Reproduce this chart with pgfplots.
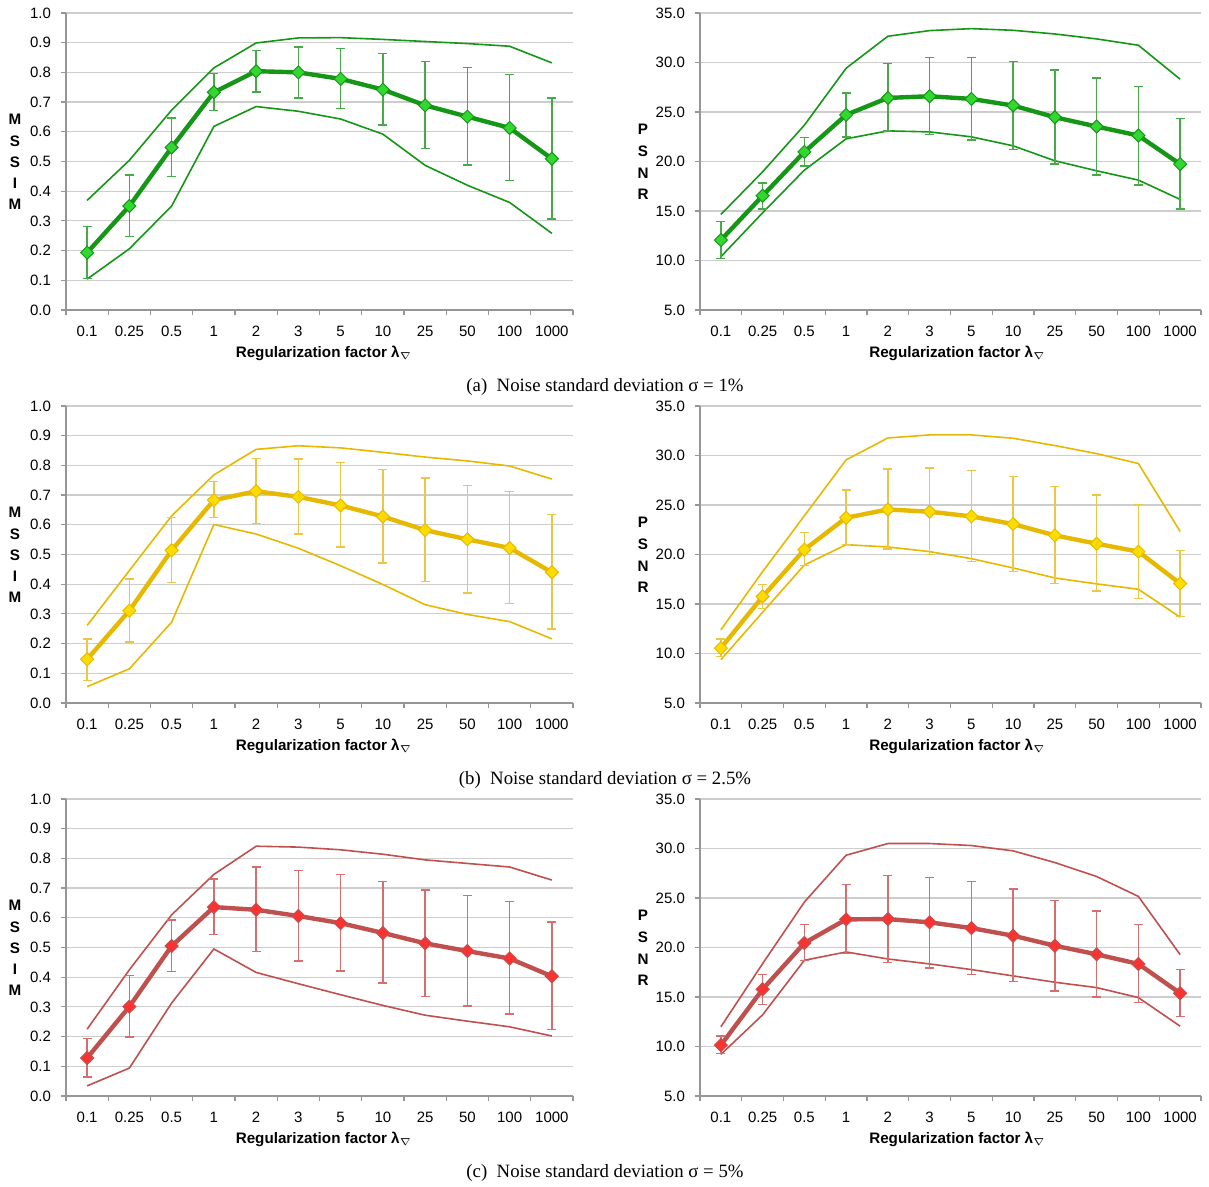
\documentclass[border=0pt]{standalone}
\usepackage{pgfplots}
\pgfplotsset{compat=1.18}
\usepackage{pgfplotstable}
\usepackage{fontspec}
\setmainfont{Liberation Sans}
\newfontfamily\capfont{Liberation Serif}

\definecolor{gLine}{RGB}{22,150,22}
\definecolor{gFill}{RGB}{50,215,50}
\definecolor{gErr}{RGB}{70,170,70}
\definecolor{yLine}{RGB}{230,185,0}
\definecolor{yFill}{RGB}{255,220,0}
\definecolor{yErr}{RGB}{238,198,70}
\definecolor{rLine}{RGB}{192,80,77}
\definecolor{rFill}{RGB}{250,50,50}
\definecolor{rErr}{RGB}{215,110,110}
\definecolor{axgray}{RGB}{150,150,150}
\definecolor{gridgray}{RGB}{205,205,205}

% x mean hi lo max min
\pgfplotstableread{
x m hi lo mx mn
0 0.193 0.281 0.107 0.369 0.104
1 0.350 0.454 0.248 0.504 0.206
2 0.547 0.646 0.450 0.673 0.350
3 0.733 0.797 0.672 0.815 0.618
4 0.804 0.873 0.734 0.899 0.685
5 0.800 0.886 0.714 0.916 0.669
6 0.778 0.880 0.678 0.917 0.643
7 0.742 0.863 0.623 0.911 0.592
8 0.689 0.837 0.544 0.904 0.487
9 0.651 0.816 0.488 0.897 0.420
10 0.613 0.793 0.436 0.888 0.362
11 0.509 0.714 0.307 0.832 0.258
}\tMa
\pgfplotstableread{
x m hi lo mx mn
0 12.06 13.91 10.21 14.65 10.38
1 16.54 17.81 15.22 18.96 14.82
2 20.97 22.42 19.56 23.67 19.13
3 24.71 26.93 22.49 29.42 22.29
4 26.42 29.89 23.06 32.65 23.09
5 26.59 30.49 22.72 33.22 22.99
6 26.32 30.52 22.15 33.42 22.49
7 25.65 30.12 21.24 33.25 21.58
8 24.47 29.25 19.76 32.88 20.07
9 23.53 28.44 18.65 32.38 19.06
10 22.62 27.57 17.61 31.74 18.12
11 19.73 24.34 15.19 28.31 16.17
}\tPa
\pgfplotstableread{
x m hi lo mx mn
0 0.147 0.216 0.075 0.261 0.055
1 0.311 0.417 0.206 0.446 0.115
2 0.514 0.625 0.406 0.630 0.272
3 0.683 0.746 0.624 0.768 0.601
4 0.713 0.823 0.604 0.854 0.569
5 0.694 0.821 0.569 0.866 0.521
6 0.665 0.810 0.525 0.859 0.462
7 0.628 0.787 0.471 0.844 0.399
8 0.582 0.757 0.410 0.828 0.331
9 0.551 0.733 0.371 0.815 0.298
10 0.522 0.712 0.334 0.798 0.274
11 0.440 0.635 0.249 0.754 0.216
}\tMb
\pgfplotstableread{
x m hi lo mx mn
0 10.54 11.45 9.70 12.39 9.37
1 15.75 16.99 14.57 18.27 14.17
2 20.49 22.20 18.87 23.91 18.94
3 23.71 26.53 20.99 29.56 20.99
4 24.55 28.62 20.55 31.77 20.76
5 24.32 28.72 19.98 32.08 20.29
6 23.85 28.48 19.28 32.08 19.58
7 23.07 27.88 18.27 31.74 18.64
8 21.93 26.87 17.09 31.00 17.63
9 21.09 26.00 16.32 30.19 17.03
10 20.29 25.02 15.58 29.19 16.49
11 17.06 20.42 13.73 22.33 13.67
}\tPb
\pgfplotstableread{
x m hi lo mx mn
0 0.128 0.193 0.064 0.225 0.034
1 0.301 0.405 0.199 0.425 0.094
2 0.505 0.592 0.420 0.610 0.313
3 0.636 0.731 0.544 0.746 0.495
4 0.627 0.771 0.486 0.841 0.416
5 0.606 0.759 0.454 0.838 0.378
6 0.582 0.745 0.421 0.829 0.341
7 0.549 0.723 0.380 0.814 0.305
8 0.514 0.694 0.334 0.795 0.272
9 0.488 0.676 0.303 0.783 0.252
10 0.463 0.655 0.276 0.771 0.233
11 0.403 0.586 0.224 0.727 0.202
}\tMc
\pgfplotstableread{
x m hi lo mx mn
0 10.14 11.08 9.27 11.99 9.20
1 15.78 17.26 14.24 18.37 13.20
2 20.45 22.33 18.67 24.59 18.71
3 22.84 26.37 19.38 29.32 19.55
4 22.87 27.27 18.47 30.50 18.84
5 22.54 27.10 17.93 30.50 18.34
6 21.96 26.67 17.30 30.30 17.77
7 21.19 25.90 16.56 29.76 17.13
8 20.18 24.75 15.62 28.58 16.49
9 19.31 23.68 15.01 27.17 15.95
10 18.34 22.33 14.47 25.16 14.94
11 15.38 17.80 13.03 19.28 12.05
}\tPc

\pgfplotsset{
  panel/.style={
    scale only axis, height=148.5pt,
    anchor=south west,
    xmin=-0.5, xmax=11.5,
    xtick={0,...,11},
    xticklabels={0.1,0.25,0.5,1,2,3,5,10,25,50,100,1000},
    minor xtick={-0.5,0.5,...,11.5},
    major x tick style={draw=none},
    axis x line*=bottom, axis y line*=left,
    axis line style={axgray, -, line width=0.6pt},
    tick style={axgray, line width=0.6pt},
    tick align=outside,
    major tick length=2.5pt, minor tick length=2.5pt,
    ymajorgrids, grid style={gridgray, line width=0.6pt},
    ticklabel style={font=\fontsize{7.5}{8}\selectfont, text=black},
    yticklabel style={xshift=-1.5pt, /pgf/number format/.cd, fixed, fixed zerofill, precision=1, assume math mode=true},
    xticklabel style={anchor=base, yshift=-10.6pt},
    clip=false,
  },
  mssim/.style={panel, width=253.5pt, ymin=0, ymax=1, ytick={0,0.1,...,1.0}},
  psnr/.style={panel, width=250.5pt, ymin=5, ymax=35, ytick={5,10,...,35}},
}

\newcommand{\series}[4]{% table, line, fill, err
  \addplot[#2, line width=0.8pt, no marks] table[x=x,y=mx]{#1};
  \addplot[#2, line width=0.8pt, no marks] table[x=x,y=mn]{#1};
  \addplot[#2, line width=2.2pt, mark=square*, mark size=2.3pt,
    mark options={rotate=45, fill=#3, draw=#2, line width=0.5pt, solid},
    error bars/.cd, y dir=both, y explicit,
    error bar style={#4, line width=0.7pt},
    error mark options={#4, mark size=2.2pt, line width=0.7pt, rotate=90}]
    table[x=x, y=m, y error plus expr=\thisrow{hi}-\thisrow{m}, y error minus expr=\thisrow{m}-\thisrow{lo}]{#1};
}

\newcommand{\xlab}{\textbf{Regularization factor λ}$_{\nabla}$}

\begin{document}
\begin{tikzpicture}
\path[use as bounding box] (0,0) rectangle (604.5pt,593.5pt);

% row a
\begin{axis}[mssim, at={(33pt,438.5pt)}]
\series{\tMa}{gLine}{gFill}{gErr}
\end{axis}
\begin{axis}[psnr, at={(350pt,438.5pt)}]
\series{\tPa}{gLine}{gFill}{gErr}
\end{axis}
% row b
\begin{axis}[mssim, at={(33pt,242pt)}]
\series{\tMb}{yLine}{yFill}{yErr}
\end{axis}
\begin{axis}[psnr, at={(350pt,242pt)}]
\series{\tPb}{yLine}{yFill}{yErr}
\end{axis}
% row c
\begin{axis}[mssim, at={(33pt,45.5pt)}]
\series{\tMc}{rLine}{rFill}{rErr}
\end{axis}
\begin{axis}[psnr, at={(350pt,45.5pt)}]
\series{\tPc}{rLine}{rFill}{rErr}
\end{axis}

\foreach \dy/\captxt in {0/{(a)\ \ Noise standard deviation σ = 1\%}, 196.5/{(b)\ \ Noise standard deviation σ = 2.5\%}, 393/{(c)\ \ Noise standard deviation σ = 5\%}} {
  \node[font=\fontsize{7.6}{10.6}\selectfont\bfseries, align=center] at (7.5pt,{512.5pt-\dy pt}) {M\\S\\S\\I\\M};
  \node[font=\fontsize{7.6}{10.8}\selectfont\bfseries, align=center] at (321.5pt,{512.5pt-\dy pt}) {P\\S\\N\\R};
  \node[font=\fontsize{7.6}{9}\selectfont] at (162pt,{417pt-\dy pt}) {\xlab};
  \node[font=\fontsize{7.6}{9}\selectfont] at (478.75pt,{417pt-\dy pt}) {\xlab};
  \node[font=\capfont\fontsize{9.4}{10}\selectfont] at (302.5pt,{400pt-\dy pt}) {\captxt};
}
\end{tikzpicture}
\end{document}
